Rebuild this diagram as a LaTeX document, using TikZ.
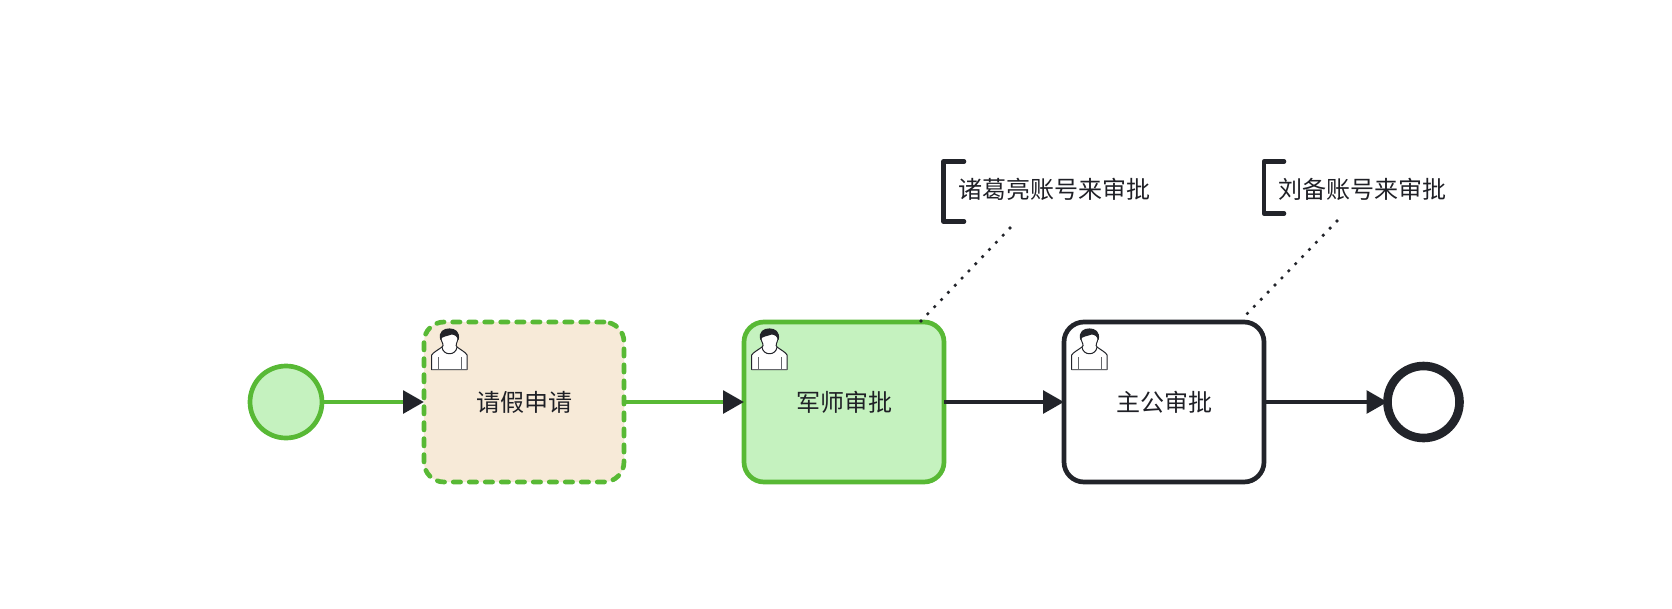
\documentclass[tikz,border=0pt]{standalone}
\usepackage{fontspec}
\usetikzlibrary{arrows.meta}
\setmainfont{Noto Sans CJK SC}
\definecolor{ink}{HTML}{22242A}
\definecolor{okgreen}{HTML}{58B935}
\definecolor{okfill}{HTML}{C5F2BF}
\definecolor{cream}{HTML}{F7EAD8}
\tikzset{
  x=1pt,y=-1pt,
  label text/.style={font=\fontsize{24}{30}\selectfont,text=ink!90!black},
  taskbox/.style={rectangle,rounded corners=20pt,minimum width=200pt,minimum height=160pt,
    line width=4.7pt,outer sep=0pt,inner sep=0pt,label text},
  startev/.style={circle,minimum size=72pt,inner sep=0pt,outer sep=0pt,line width=4.7pt,draw=okgreen,fill=okfill},
  endev/.style={circle,minimum size=72pt,inner sep=0pt,outer sep=0pt,line width=8.6pt,draw=ink,fill=white},
  flow/.style={line width=4.4pt,-{Triangle[length=21pt,width=22.5pt,color=ink]}},
  bracketline/.style={line width=4.6pt,draw=ink,line cap=round,line join=round},
  assoc/.style={line width=3.6pt,draw=ink,line cap=round,dash pattern=on 0pt off 9.9pt},
  anno/.style={inner sep=0pt,outer sep=0pt,anchor=west,label text},
  person/.style={line width=1pt,draw=ink,fill=white,line join=round}
}
% user marker drawn relative to the top-left corner of a task
\newcommand{\usermark}[1]{%
  \begin{scope}[shift={(#1)}]
    % torso with sloping shoulders
    \draw[person] (7.7,47.7) -- (7.7,33) .. controls (9,30.5) and (14,28) .. (18,25)
      -- (33,25) .. controls (37,28) and (42,30.5) .. (43,33) -- (43,47.7) -- cycle;
    % head and collar
    \draw[person] (18,25) .. controls (19,34) and (32,34) .. (33,25)
      .. controls (31,23.5) and (33,21) .. (34,17) .. controls (35,11) and (31,8) .. (25.5,8)
      .. controls (20,8) and (16,11) .. (17,17) .. controls (18,21) and (20.5,23.5) .. (18,25) -- cycle;
    % hair
    \fill[ink] (16.3,18) .. controls (14,9) and (20,6.4) .. (25.5,6.4)
      .. controls (31,6.4) and (36.5,9.5) .. (34.7,18)
      .. controls (33.5,15) and (31,12.5) .. (27.5,12.5)
      .. controls (23,14.5) and (18,14) .. (16.3,18) -- cycle;
    % sleeves and hem
    \draw[line width=1pt,ink!70!white] (14,35) -- (14,47.5) (37,35) -- (37,47.5);
    \draw[line width=1.2pt,ink!70!white] (7.7,47.7) -- (43,47.7);
  \end{scope}}
\begin{document}
\begin{tikzpicture}
  \useasboundingbox (0,0) rectangle (1672,608);

  % events and tasks
  \node[startev] (start) at (286,402) {};
  \node[taskbox,draw=okgreen,fill=cream,dash pattern=on 7.3pt off 8.7pt,line cap=round] (apply) at (524,402) {请假申请};
  \node[taskbox,draw=okgreen,fill=okfill] (advisor) at (844,402) {军师审批};
  \node[taskbox,draw=ink,fill=white] (lord) at (1164,402) {主公审批};
  \node[endev] (finish) at (1423.5,402) {};

  \usermark{424,322}
  \usermark{744,322}
  \usermark{1064,322}

  % sequence flows
  \draw[flow,okgreen] (start) -- (apply);
  \draw[flow,okgreen] (apply) -- (advisor);
  \draw[flow,ink] (advisor) -- (lord);
  \draw[flow,ink] (lord) -- (finish.west);

  % text annotations
  \draw[bracketline] (964,161.5) -- (943.5,161.5) -- (943.5,221.5) -- (964,221.5);
  \node[anno] (noteA) at (958,189) {诸葛亮账号来审批};
  \draw[bracketline] (1284,161.5) -- (1264,161.5) -- (1264,213.5) -- (1284,213.5);
  \node[anno] (noteB) at (1278,189) {刘备账号来审批};

  % associations between annotations and tasks
  \coordinate (noteAfoot) at (1010,228);
  \coordinate (advisorTop) at (920,322);
  \coordinate (noteBfoot) at (1337,221);
  \coordinate (lordTop) at (1244,317);
  \draw[assoc] (noteAfoot) -- (advisorTop);
  \draw[assoc] (noteBfoot) -- (lordTop);
\end{tikzpicture}
\end{document}
